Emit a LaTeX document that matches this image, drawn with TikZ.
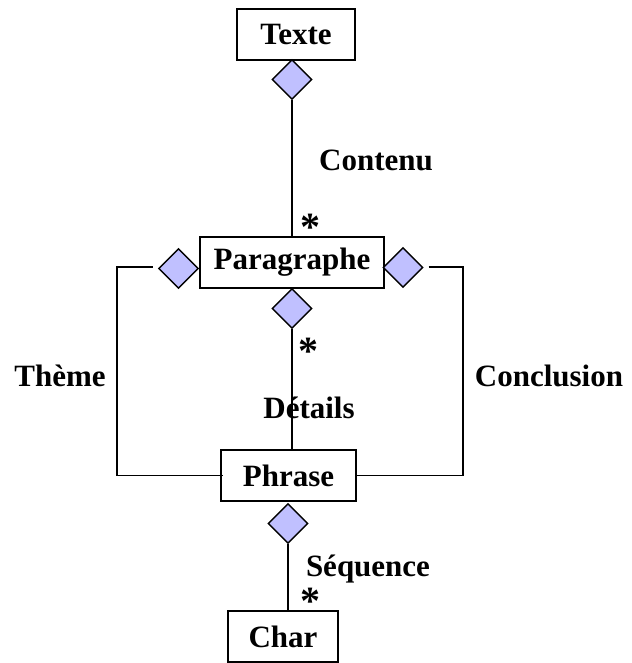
\documentclass[tikz,border=0pt]{standalone}
\usepackage{fontspec}
\setmainfont{Liberation Serif}
\usetikzlibrary{shapes.geometric}
\definecolor{agg}{RGB}{192,192,255}
\tikzset{
  cls/.style={draw, line width=1.4pt, inner sep=0pt, minimum height=51pt,
    font=\fontsize{31}{36}\selectfont\bfseries},
  agr/.style={diamond, draw, fill=agg, line width=1.4pt, inner sep=0pt,
    minimum width=40pt, minimum height=40pt},
  lnk/.style={line width=1.4pt},
  lbl/.style={inner sep=0pt, font=\fontsize{31}{36}\selectfont\bfseries},
  mult/.style={inner sep=0pt, anchor=base, font=\fontsize{40}{44}\selectfont\bfseries}
}
\begin{document}
\begin{tikzpicture}[x=1pt,y=-1pt]
\useasboundingbox (0,0) rectangle (631,663);

% classes
\node[cls, minimum width=118pt] (texte) at (296,34.5) {Texte};
\node[cls, minimum width=184pt] (para) at (292,262.5) {Paragraphe};
\node[cls, minimum width=135pt] (phrase) at (288.5,475.5) {Phrase};
\node[cls, minimum width=110pt] (char) at (283,636.5) {Char};

% aggregation diamonds
\node[agr] (dT) at (292,79.5) {};
\node[agr] (dL) at (178.5,268.5) {};
\node[agr] (dR) at (403,267.5) {};
\node[agr] (dM) at (292,308.5) {};
\node[agr] (dP) at (288,523.5) {};

% corners of the side links
\coordinate (cL) at (117,267);
\coordinate (cR) at (463,267);

% links
\draw[lnk] (dT.south) -- (dT.south |- para.north);
\draw[lnk] (dM.south) -- (dM.south |- phrase.north);
\draw[lnk] (dP.south) -- (dP.south |- char.north);
\draw[lnk] ([xshift=-5pt]dL.west |- cL) -- (cL) -- (cL |- phrase.west) -- ([xshift=3pt]phrase.west);
\draw[lnk] ([xshift=5pt]dR.east |- cR) -- (cR) -- (cR |- phrase.east) -- (phrase.east);

% role names
\node[lbl] (contenu) at (376,160) {Contenu};
\node[lbl] (theme) at (60,376) {Thème};
\node[lbl] (details) at (309,408) {Détails};
\node[lbl] (conclusion) at (549,376) {Conclusion};
\node[lbl] (sequence) at (368,569) {Séquence};

% multiplicities
\node[mult] (m1) at (310,240.5) {*};
\node[mult] (m2) at (308,364) {*};
\node[mult] (m3) at (310,614) {*};
\end{tikzpicture}
\end{document}
